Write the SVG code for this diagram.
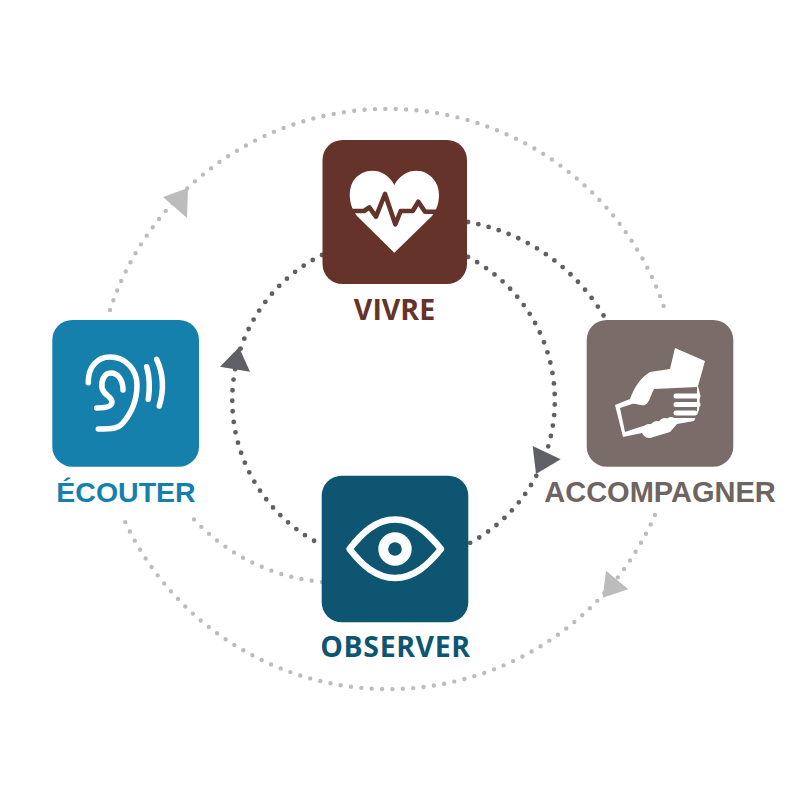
<svg xmlns="http://www.w3.org/2000/svg" width="800" height="800" viewBox="0 0 800 800">
<style>
.d{fill:none;stroke:#5f6065;stroke-width:4.8;stroke-linecap:round;stroke-dasharray:0 10.6}
.l{fill:none;stroke:#bcbcbc;stroke-width:4.4;stroke-linecap:round;stroke-dasharray:0 10.4}
.ah-d{fill:#5f6065}
.ah-l{fill:#bcbcbc}
.w{fill:none;stroke:#fff;stroke-linecap:round;stroke-linejoin:round}
text{font-weight:700;text-anchor:middle}
.ls{font-family:"Liberation Sans",Arial,sans-serif}
.os{font-family:"Open Sans","Noto Sans",sans-serif}
</style>
<rect width="800" height="800" fill="#fff"/>
<g id="connectors">
<path class="l" d="M110,310 A292,292 0 0 1 665,310"/>
<path class="l" d="M655,515 A291,291 0 0 1 122,515"/>
<path class="l" d="M322,582 A200,200 0 0 1 190,515"/>
<path class="d" d="M468,222 A200,200 0 0 1 605,318"/>
<path class="d" d="M468,257 A162,162 0 0 1 468,544"/>
<path class="d" d="M322,255 A162,162 0 0 0 322,545"/>
<polygon class="ah-d" points="532.7,446 560.7,459.3 536,474"/>
<polygon class="ah-d" points="239,347.3 220,366.7 250,371.7"/>
<polygon class="ah-l" points="606,570.7 628.3,589.3 602.7,597.7"/>
<polygon class="ah-l" points="188,188 163,197 187,218"/>
</g>
<g id="vivre">
<rect x="322.5" y="140" width="144.5" height="144" rx="20" fill="#66332a"/>
<path fill="#fff" d="M394.3,252.7 L357,216 C348,205 348,188 354,180 C364,167 385,167 394.3,185 C404,167 425,167 434,180 C441,188 441,205 432,216 Z"/>
<polyline points="350,211 364,211 369.3,207.3 376,216.7 385,194 395.3,224.3 400.7,211 412.7,211 418.3,201.7 425,211.7 440,211.7" fill="none" stroke="#66332a" stroke-width="4.6" stroke-linejoin="round"/>
<text class="os" x="394.5" y="319.5" font-size="28.5" fill="#66332a">VIVRE</text>
</g>
<g id="accompagner">
<rect x="586.7" y="320" width="146.6" height="146.7" rx="20" fill="#7a6c69"/>
<path fill="#fff" d="M675,348 L705,361 L698,386 L700,394 L699,410 L694,421 L677,424 L670,432 L650,438 L642,433 L623,437 L615,405 L630,399 C634,388 640,378 650,372 L670,369 Z"/>
<path fill="#7a6c69" d="M620,408 L632,404 C636,403 640,406 645,405 C650,402 651,394 654,389 L697,387 L697,393 L697,418 L673,418 L640,427 L625,432 Z"/>
<g class="w" stroke-width="5"><path d="M676,396 H698"/><path d="M676,404.5 H698"/><path d="M676,413 H695"/></g>
<g fill="#fff"><circle cx="649" cy="431" r="7"/><circle cx="657" cy="428" r="7"/><circle cx="665" cy="425" r="7"/><circle cx="671" cy="422" r="5"/></g>
<text class="ls" x="660" y="501.5" font-size="29" fill="#6e6461">ACCOMPAGNER</text>
</g>
<g id="ecouter">
<rect x="52.3" y="320" width="146.7" height="146.7" rx="20" fill="#1680ad"/>
<g class="w" stroke-width="5.5">
<path d="M88.3,382.7 C88,366 98,357 110,357 C126,357 137,370 137,385 C137,400 131,414 122,424 C118,428 114,429 98.3,429"/>
<path d="M123,390 C123,380 118,373 111,373 C104,373 101,381 102,388 C104,396 112,396 112,402 C112,407 105,408 96.7,408"/>
<path d="M146.7,366.7 C150,378 150,388 148.3,399.3"/>
<path d="M156.7,359.3 C164,375 164,390 159.3,406"/>
</g>
<text class="ls" x="126" y="501.5" font-size="28.5" fill="#1680ad">ÉCOUTER</text>
</g>
<g id="observer">
<rect x="321.7" y="475.7" width="146.6" height="146.6" rx="20" fill="#0d5571"/>
<path class="w" stroke-width="6.5" d="M349.5,549 C362,533 376,519.5 395,519.5 C414,519.5 428,533 441,549 C428,565 414,578 395,578 C376,578 362,565 349.5,549Z"/>
<circle cx="395" cy="549" r="16.7" fill="#fff"/>
<circle cx="395" cy="549" r="6.8" fill="#0d5571"/>
<text class="os" x="395.5" y="657" font-size="28.5" letter-spacing=".6" fill="#0d5571">OBSERVER</text>
</g>
</svg>
